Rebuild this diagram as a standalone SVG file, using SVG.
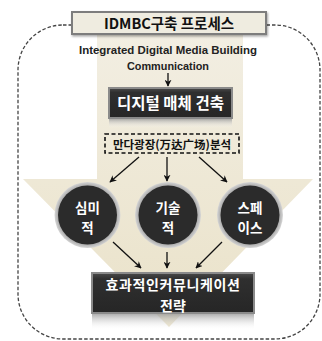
<svg xmlns="http://www.w3.org/2000/svg" width="322" height="341" viewBox="0 0 322 341">
<defs>
<linearGradient id="beige" x1="0" y1="0" x2="0" y2="1">
<stop offset="0" stop-color="#f2eee2"/>
<stop offset="1" stop-color="#eae2c9"/>
</linearGradient>
<linearGradient id="dark" x1="0" y1="0" x2="0" y2="1">
<stop offset="0" stop-color="#4a4a4a"/>
<stop offset="0.15" stop-color="#2f2f2f"/>
<stop offset="1" stop-color="#262626"/>
</linearGradient>
<linearGradient id="refl" x1="0" y1="0" x2="0" y2="1">
<stop offset="0" stop-color="#9a9a9a" stop-opacity="0.8"/>
<stop offset="1" stop-color="#ffffff" stop-opacity="0"/>
</linearGradient>
<radialGradient id="ring" cx="0.5" cy="0.5" r="0.5">
<stop offset="0.85" stop-color="#9c9c9c"/>
<stop offset="1" stop-color="#d6d6d6"/>
</radialGradient>
<marker id="ah" viewBox="0 0 10 10" refX="9" refY="5" markerWidth="7" markerHeight="7" orient="auto" markerUnits="userSpaceOnUse">
<path d="M0,0 L10,5 L0,10 L3,5 z" fill="#111"/>
</marker>
<filter id="sh" x="-10%" y="-20%" width="130%" height="160%">
<feDropShadow dx="1" dy="1.5" stdDeviation="1" flood-color="#000" flood-opacity="0.35"/>
</filter>
</defs>
<style>
.frame{fill:none;stroke:#444;stroke-width:1.3;stroke-dasharray:3.5 2}
.kr{font-family:"Noto Sans CJK KR","Noto Sans",sans-serif;font-weight:bold;text-anchor:middle}
.en{font-family:"Liberation Sans","Noto Sans",sans-serif;font-weight:bold;text-anchor:middle;fill:#222}
.wt{fill:#fff}
.conn line{stroke:#111;stroke-width:1.3;marker-end:url(#ah)}
.darkbox{fill:url(#dark);stroke:#8a8a8a;stroke-width:2}
.circ{font-size:13.5px}
</style>

<!-- dashed frame -->
<rect class="frame" x="18" y="25" width="302" height="314" rx="45" ry="45"/>

<!-- background arrow -->
<path d="M97,35 L243,35 L243,179 L313,179 L169,327 L23,179 L97,179 Z" fill="url(#beige)"/>

<!-- title -->
<g id="title">
<rect x="72" y="12" width="194" height="22" fill="#efece0" stroke="#7d7d7d" stroke-width="2" filter="url(#sh)"/>
<text class="kr" x="169" y="28.5" font-size="14.5" fill="#111">IDMBC구축 프로세스</text>
</g>

<g id="subtitle">
<text class="en" x="168" y="54" font-size="11.5" textLength="178" lengthAdjust="spacingAndGlyphs">Integrated Digital Media Building</text>
<text class="en" x="168" y="70" font-size="11.5" textLength="82" lengthAdjust="spacingAndGlyphs">Communication</text>
</g>

<g id="digital">
<rect x="109" y="88" width="123" height="30" class="darkbox"/>
<rect x="109" y="119" width="123" height="9" fill="url(#refl)"/>
<text class="kr wt" x="170.5" y="109" font-size="15.5">디지털 매체 건축</text>
</g>

<g id="analysis">
<rect x="105" y="134" width="134" height="19" fill="none" stroke="#111" stroke-width="1.6" stroke-dasharray="4 2.5"/>
<text class="kr" x="172" y="148.5" font-size="11.5" fill="#111">만다광장(万达广场)분석</text>
</g>

<g id="aesthetic">
<circle cx="87.5" cy="215" r="33" fill="url(#ring)"/>
<circle cx="87.5" cy="215" r="29.5" fill="#2b2b2b"/>
<text class="kr wt circ" x="87.5" y="212.5">심미</text>
<text class="kr wt circ" x="87.5" y="232.5">적</text>
</g>

<g id="technical">
<circle cx="168" cy="215" r="33" fill="url(#ring)"/>
<circle cx="168" cy="215" r="29.5" fill="#2b2b2b"/>
<text class="kr wt circ" x="168" y="212.5">기술</text>
<text class="kr wt circ" x="168" y="232.5">적</text>
</g>

<g id="space">
<circle cx="250" cy="215" r="33" fill="url(#ring)"/>
<circle cx="250" cy="215" r="29.5" fill="#2b2b2b"/>
<text class="kr wt circ" x="250" y="212.5">스페</text>
<text class="kr wt circ" x="250" y="232.5">이스</text>
</g>

<g id="strategy">
<rect x="92" y="273" width="162" height="40" class="darkbox"/>
<rect x="92" y="314" width="162" height="16" fill="url(#refl)"/>
<text class="kr wt" x="173" y="290" font-size="14" letter-spacing="0.6">효과적인커뮤니케이션</text>
<text class="kr wt" x="173" y="310.5" font-size="14">전략</text>
</g>

<g class="conn" id="connectors">
<line x1="168" y1="73" x2="168" y2="86"/>
<line x1="139" y1="157" x2="110" y2="182"/>
<line x1="167" y1="157" x2="167" y2="181"/>
<line x1="199" y1="157" x2="227" y2="182"/>
<line x1="113" y1="242" x2="141" y2="268"/>
<line x1="167" y1="252" x2="167" y2="268"/>
<line x1="222" y1="242" x2="196" y2="268"/>
</g>
</svg>
